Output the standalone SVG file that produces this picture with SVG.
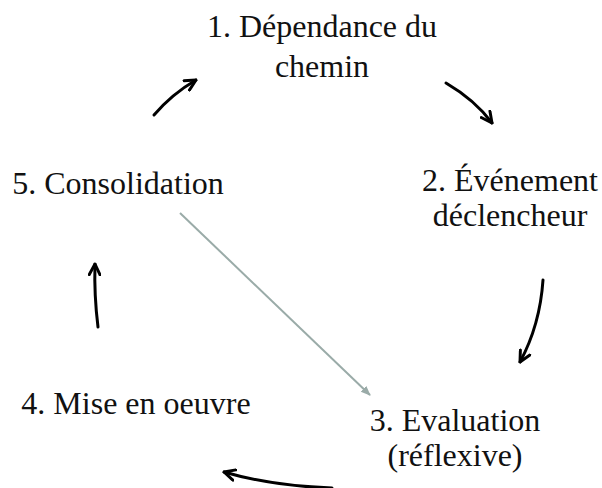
<svg xmlns="http://www.w3.org/2000/svg" width="602" height="488" viewBox="0 0 602 488">
<style>
text{font-family:"Liberation Serif","Times New Roman",serif;font-size:32px;fill:#111;text-anchor:middle}
.cyc{fill:none;stroke:#000;stroke-width:3;stroke-linecap:round}
.diag{fill:none;stroke:#9aaba8;stroke-width:2}
</style>
<defs>
<marker id="ah" viewBox="0 0 10 10" refX="9" refY="5" markerWidth="4.5" markerHeight="4.5" orient="auto" markerUnits="strokeWidth">
<path d="M1,1 L9,5 L1,9" fill="none" stroke="#000" stroke-width="2.2" stroke-linecap="round" stroke-linejoin="round"/>
</marker>
<marker id="gh" viewBox="0 0 10 10" refX="9" refY="5" markerWidth="5" markerHeight="5" orient="auto" markerUnits="strokeWidth">
<path d="M0,1 L10,5 L0,9 Z" fill="#9aaba8"/>
</marker>
</defs>
<rect width="602" height="488" fill="#fff"/>
<g id="n1"><text x="322" y="37">1. Dépendance du</text><text x="322" y="77">chemin</text></g>
<g id="n2"><text x="510" y="191">2. Événement</text><text x="510" y="226">déclencheur</text></g>
<g id="n3"><text x="455" y="431">3. Evaluation</text><text x="455" y="466">(réflexive)</text></g>
<g id="n4"><text x="136" y="414">4. Mise en oeuvre</text></g>
<g id="n5"><text x="118" y="194">5. Consolidation</text></g>
<g id="connectors">
<path class="cyc" marker-end="url(#ah)" d="M154,115 Q172,94 196,80"/>
<path class="cyc" marker-end="url(#ah)" d="M446,83 Q475,100 492,123"/>
<path class="cyc" marker-end="url(#ah)" d="M543,280 Q540,325 520,362"/>
<path class="cyc" marker-end="url(#ah)" d="M332,488 Q272,486 224,472"/>
<path class="cyc" marker-end="url(#ah)" d="M98,327 Q94,295 95,264"/>
<path class="diag" marker-end="url(#gh)" d="M180,213 L370,395"/>
</g>
</svg>
